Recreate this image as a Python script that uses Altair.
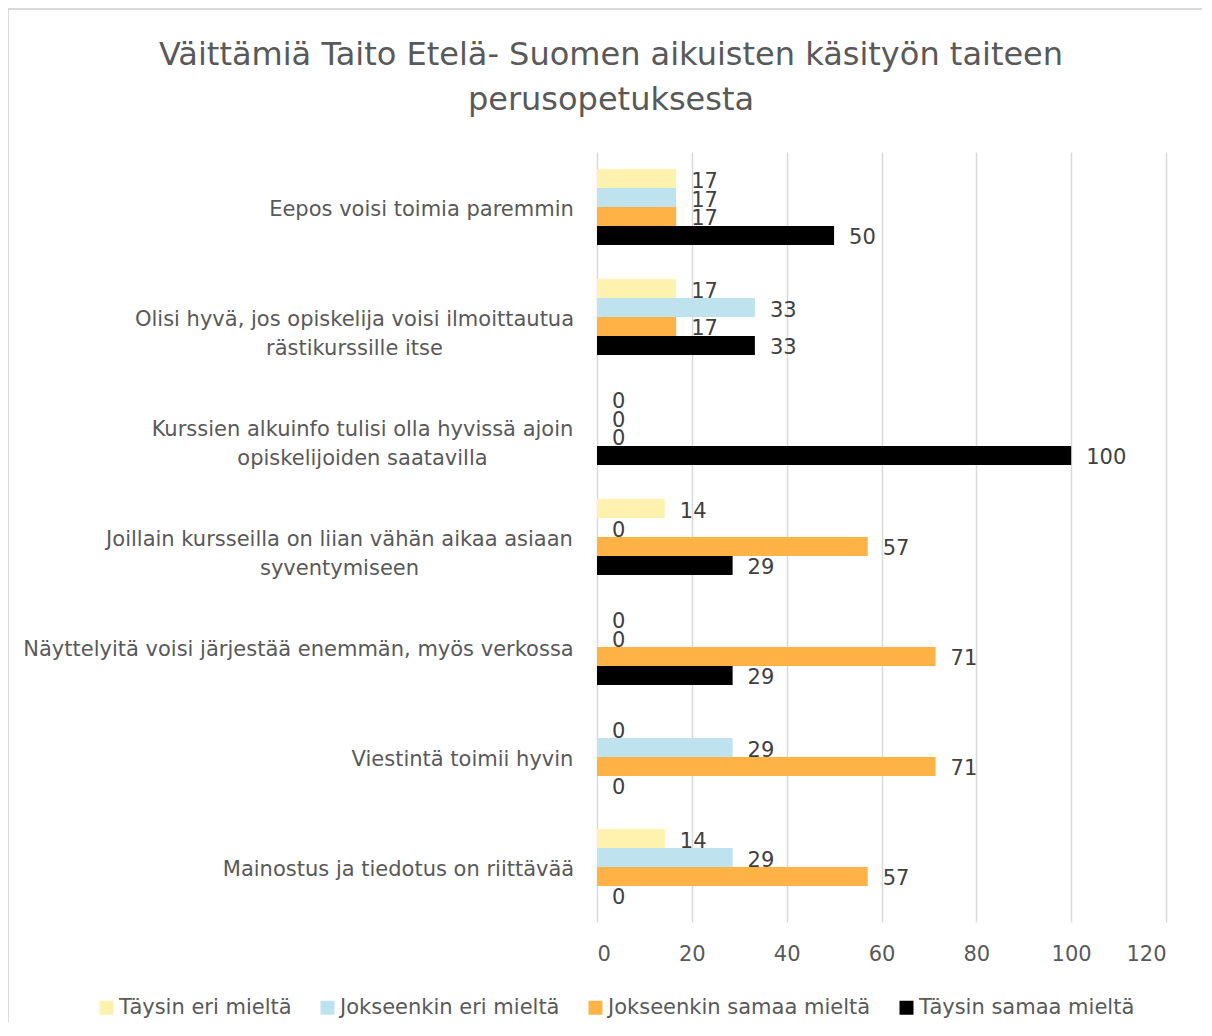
import json
import altair as alt
import pandas as pd

# ---- data ----
categories = [
    "Eepos voisi toimia paremmin",
    "Olisi hyvä, jos opiskelija voisi ilmoittautua\nrästikurssille itse",
    "Kurssien alkuinfo tulisi olla hyvissä ajoin\nopiskelijoiden saatavilla",
    "Joillain kursseilla on liian vähän aikaa asiaan\nsyventymiseen",
    "Näyttelyitä voisi järjestää enemmän, myös verkossa",
    "Viestintä toimii hyvin",
    "Mainostus ja tiedotus on riittävää",
]
series = ["Täysin eri mieltä", "Jokseenkin eri mieltä",
          "Jokseenkin samaa mieltä", "Täysin samaa mieltä"]
taysin_eri = [16.7, 16.7, 0, 14.3, 0, 0, 14.3]
jokseenkin_eri = [16.7, 33.3, 0, 0, 0, 28.6, 28.6]
jokseenkin_samaa = [16.7, 16.7, 0, 57.1, 71.4, 71.4, 57.1]
taysin_samaa = [50, 33.3, 100, 28.6, 28.6, 0, 0]
x_ticks = [0, 20, 40, 60, 80, 100, 120]
title_lines = ["Väittämiä Taito Etelä- Suomen aikuisten käsityön taiteen",
               "perusopetuksesta"]

colors = ["#FFF2AE", "#BEE3EF", "#FFB347", "#000000"]

values_by_series = [taysin_eri, jokseenkin_eri, jokseenkin_samaa, taysin_samaa]
rows = []
for s, vals in zip(series, values_by_series):
    for c, v in zip(categories, vals):
        rows.append({"category": c, "series": s, "value": v})
df = pd.DataFrame(rows)

# label padding = gap + half width of label block (centres wrapped lines)
label_pad = [176, 243, 235, 258, 299, 135, 199]
conds = [{"test": "datum.value == " + json.dumps(c), "value": p}
         for c, p in zip(categories, label_pad)]

FONT = "DejaVu Sans"
GRAY = "#595959"
FS = 21

y_enc = alt.Y(
    "category:N", sort=categories,
    scale=alt.Scale(paddingInner=0.31, paddingOuter=0.155),
    axis=alt.Axis(title=None, ticks=False, domain=False, grid=False,
                  labelFontSize=FS, labelColor=GRAY, labelFont=FONT,
                  labelAlign="center", labelLineHeight=29, labelLimit=0,
                  labelOffset=3,
                  labelExpr="split(datum.label, '\\n')",
                  labelPadding={"condition": conds, "value": 24}),
)
yoff = alt.YOffset("series:N", sort=series, scale=alt.Scale(paddingInner=0, paddingOuter=0))
x_enc = alt.X(
    "value:Q", scale=alt.Scale(domain=[0, 120], nice=False),
    axis=alt.Axis(values=x_ticks, title=None, ticks=False, domain=False,
                  grid=True, gridColor="#D9D9D9", gridWidth=1.5,
                  labelFontSize=FS, labelColor=GRAY, labelFont=FONT,
                  labelPadding=21),
)

base = alt.Chart(df)

bars = base.mark_bar().encode(
    x=x_enc, y=y_enc, yOffset=yoff,
    color=alt.Color("series:N", sort=series,
                    scale=alt.Scale(domain=series, range=colors),
                    legend=alt.Legend(title=None, orient="none", direction="horizontal",
                                      columns=4, legendX=-501, legendY=845,
                                      symbolType="square", symbolSize=196,
                                      symbolStrokeWidth=0, labelFontSize=FS,
                                      labelColor=GRAY, labelFont=FONT,
                                      labelOffset=2, columnPadding=25,
                                      labelLimit=0)),
)

labels = base.mark_text(align="left", baseline="middle", dx=15, dy=3, fontSize=FS,
                        font=FONT, color="#404040").encode(
    x="value:Q", y=alt.Y("category:N", sort=categories), yOffset=yoff,
    text=alt.Text("value:Q", format=".0f"),
)

title = alt.Chart(pd.DataFrame({"a": [0]})).mark_text(
    align="center", baseline="middle", fontSize=32, font=FONT,
    color=GRAY, lineHeight=45).encode(
    x=alt.value(14), y=alt.value(-97), text=alt.value(title_lines))

border = alt.Chart(pd.DataFrame({"a": [0]})).mark_rect(
    fill=None, stroke="#D9D9D9", strokeWidth=2).encode(
    x=alt.value(-589), x2=alt.value(1000), y=alt.value(-143), y2=alt.value(1000))

chart = alt.layer(border, title, bars, labels).properties(
    width=569, height=770,
    autosize=alt.AutoSizeParams(type="none"),
    padding={"left": 589, "top": 144, "right": 36, "bottom": 100},
).configure(font=FONT).configure_view(stroke=None)

chart.save("out.html", embed_options={"renderer": "svg", "actions": False})
